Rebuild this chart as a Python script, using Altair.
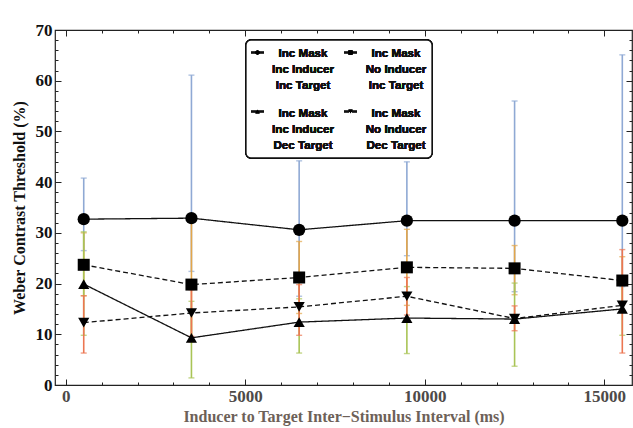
import altair as alt
import pandas as pd

# Inter-stimulus interval between inducer and target (ms)
isi_ms = [500, 3500, 6500, 9500, 12500, 15500]

# Weber contrast thresholds (%) with error-bar bounds, one set per condition
inc_inc_inc_mean = [32.7, 32.9, 30.6, 32.4, 32.4, 32.4]
inc_inc_inc_hi = [40.8, 61.1, 44.2, 44.0, 56.0, 65.1]
inc_inc_inc_lo = [26.5, 22.4, 17.5, 25.5, 18.4, 19.4]

inc_no_inc_mean = [23.7, 19.8, 21.2, 23.2, 23.0, 20.6]
inc_no_inc_hi = [30.0, 32.5, 28.3, 30.7, 27.5, 25.3]
inc_no_inc_lo = [17.6, 8.5, 14.1, 15.7, 17.8, 16.0]

inc_inc_dec_mean = [19.9, 9.3, 12.4, 13.2, 13.0, 15.0]
inc_inc_dec_hi = [30.2, 16.5, 17.0, 19.4, 20.1, 20.2]
inc_inc_dec_lo = [9.8, 1.4, 6.3, 6.2, 3.7, 9.8]

inc_no_dec_mean = [12.3, 14.2, 15.4, 17.5, 13.1, 15.7]
inc_no_dec_hi = [17.6, 18.8, 19.8, 21.2, 15.6, 26.7]
inc_no_dec_lo = [6.3, 9.6, 9.8, 13.8, 10.7, 6.3]

legend_labels = [
    "Inc Mask\nInc Inducer\nInc Target",
    "Inc Mask\nNo Inducer\nInc Target",
    "Inc Mask\nInc Inducer\nDec Target",
    "Inc Mask\nNo Inducer\nDec Target",
]

series = [
    dict(mean=inc_inc_inc_mean, hi=inc_inc_inc_hi, lo=inc_inc_inc_lo,
         shape="circle", size=150, dash=[1, 0], bar="#8fa9d4"),
    dict(mean=inc_no_inc_mean, hi=inc_no_inc_hi, lo=inc_no_inc_lo,
         shape="square", size=144, dash=[5, 3], bar="#e3a64a"),
    dict(mean=inc_inc_dec_mean, hi=inc_inc_dec_hi, lo=inc_inc_dec_lo,
         shape="triangle-up", size=125, dash=[1, 0], bar="#a9c456"),
    dict(mean=inc_no_dec_mean, hi=inc_no_dec_hi, lo=inc_no_dec_lo,
         shape="triangle-down", size=125, dash=[5, 3], bar="#ec7652"),
]

W, H = 577, 355
x_scale = alt.Scale(domain=[-300, 15770], nice=False, zero=False)
y_scale = alt.Scale(domain=[0, 70], nice=False, zero=False)

serif = "Liberation Serif"
sans = "Liberation Sans"

minor_x = "datum.value % 5000 !== 0"
minor_y = "datum.value % 10 !== 0"


def frame_axis(orient, values, minor_test, labels, **kw):
    return alt.Axis(
        orient=orient,
        values=values,
        labels=labels,
        format="d",
        labelExpr="datum.value % " + ("5000" if orient in ("bottom", "top") else "10")
        + " === 0 ? datum.label : ''",
        offset=-6,
        domain=False,
        grid=False,
        ticks=True,
        tickSize=6,
        tickColor="#222222",
        tickWidth=1,
        tickDash={"condition": {"test": minor_test, "value": [0, 3, 3, 20]},
                  "value": [20, 0]},
        labelFont=serif,
        labelFontWeight="bold",
        labelFontSize=17,
        labelFlush=False,
        labelOverlap=False,
        labelBound=False,
        titleFont=serif,
        titleFontWeight="bold",
        titleFontSize=16,
        **kw,
    )


x_vals = list(range(0, 16000, 1000))
y_vals = list(range(0, 71, 2))

x_axis_bottom = frame_axis("bottom", x_vals, minor_x, True,
                           title="Inducer to Target Inter\u2212Stimulus Interval (ms)",
                           labelColor="#4d4a48", titleColor="#6d6158",
                           labelPadding=3, titlePadding=4)
y_axis_left = frame_axis("left", y_vals, minor_y, True,
                         title="Weber Contrast Threshold (%)",
                         labelColor="#111111", titleColor="#111111",
                         labelPadding=3, titlePadding=8)
x_axis_top = frame_axis("top", x_vals, minor_x, False, title=None)
y_axis_right = frame_axis("right", y_vals, minor_y, False, title=None)

frames = []
for i, s in enumerate(series):
    frames.append(pd.DataFrame({
        "isi": isi_ms, "mean": s["mean"], "hi": s["hi"], "lo": s["lo"]
    }))

layers = []

# frame axes carried by invisible layers
layers.append(
    alt.Chart(frames[0]).mark_point(opacity=0).encode(
        x=alt.X("isi:Q", scale=x_scale, axis=x_axis_bottom),
        y=alt.Y("mean:Q", scale=y_scale, axis=y_axis_left),
    )
)
layers.append(
    alt.Chart(frames[0]).mark_point(opacity=0).encode(
        x=alt.X("isi:Q", scale=x_scale, axis=x_axis_top),
        y=alt.Y("mean:Q", scale=y_scale, axis=y_axis_right),
    )
)

# error bars with caps
for s, df in zip(series, frames):
    base = alt.Chart(df)
    layers.append(base.mark_rule(color=s["bar"], strokeWidth=1.6).encode(
        x=alt.X("isi:Q", scale=x_scale, axis=None),
        y=alt.Y("lo:Q", scale=y_scale, axis=None),
        y2="hi:Q",
    ))
    for end in ("lo", "hi"):
        layers.append(base.mark_tick(color=s["bar"], orient="horizontal",
                                     size=6, thickness=1.4).encode(
            x=alt.X("isi:Q", scale=x_scale, axis=None),
            y=alt.Y(end + ":Q", scale=y_scale, axis=None),
        ))

# connecting lines
for s, df in zip(series, frames):
    layers.append(alt.Chart(df).mark_line(
        color="#111111", strokeWidth=1.3, strokeDash=s["dash"]).encode(
        x=alt.X("isi:Q", scale=x_scale, axis=None),
        y=alt.Y("mean:Q", scale=y_scale, axis=None),
    ))

# markers
for s, df in zip(series, frames):
    layers.append(alt.Chart(df).mark_point(
        shape=s["shape"], size=s["size"], filled=True, color="#000000",
        opacity=1).encode(
        x=alt.X("isi:Q", scale=x_scale, axis=None),
        y=alt.Y("mean:Q", scale=y_scale, axis=None),
    ))

# legend box
box_x, box_y, box_w, box_h = 191, 10, 186, 118
layers.append(alt.Chart(frames[0]).mark_rect(
    fill="white", stroke="#111111", strokeWidth=1.3, cornerRadius=5).encode(
    x=alt.value(box_x), x2=alt.value(box_x + box_w),
    y=alt.value(box_y), y2=alt.value(box_y + box_h),
))

col_sym = [196, 289]
col_txt = [248, 341]
row_sym = [22.5, 81.5]
row_txt = [18, 77.5]
for i, (s, label) in enumerate(zip(series, legend_labels)):
    c, r = i % 2, i // 2
    sx = col_sym[c]
    sy = row_sym[r]
    layers.append(alt.Chart(frames[0]).mark_rule(
        color="#111111", strokeWidth=1.3, strokeDash=s["dash"]).encode(
        x=alt.value(sx), x2=alt.value(sx + 13), y=alt.value(sy),
    ))
    layers.append(alt.Chart(frames[0]).mark_point(
        shape=s["shape"], size=16, filled=True, color="#000000", opacity=1).encode(
        x=alt.value(sx + 6.5), y=alt.value(sy),
    ))
    layers.append(alt.Chart(frames[0]).mark_text(
        font=sans, fontWeight="bold", fontSize=11.6, lineBreak="\n",
        lineHeight=16, align="center", baseline="top", color="#111111").encode(
        x=alt.value(col_txt[c]), y=alt.value(row_txt[r]), text=alt.value(label),
    ))

chart = alt.layer(*layers).resolve_axis(
    x="independent", y="independent"
).properties(
    width=W, height=H,
    autosize=alt.AutoSizeParams(type="none"),
    padding={"left": 55, "top": 30, "right": 1, "bottom": 43},
    background="white",
).configure_view(stroke="#222222", strokeWidth=1.2)

chart.save("out.html", embed_options={"renderer": "svg", "actions": False})
